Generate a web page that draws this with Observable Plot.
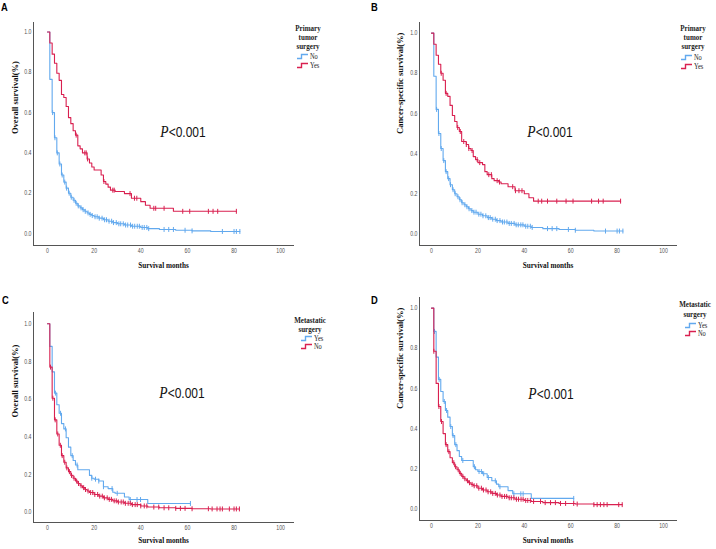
<!DOCTYPE html>
<html><head><meta charset="utf-8">
<script src="https://cdn.jsdelivr.net/npm/d3@7"></script>
<script src="https://cdn.jsdelivr.net/npm/@observablehq/plot@0.6"></script>
<style>
html,body{margin:0;padding:0;background:#fff;}
#fig{position:relative;width:716px;height:549px;overflow:hidden;background:#fff;}
#fig svg.plot{position:absolute;overflow:visible;}
.lab{position:absolute;font-family:"Liberation Sans",Arial,sans-serif;font-weight:bold;font-size:11px;line-height:1;color:#000;transform:scaleX(0.85);transform-origin:left top;}
.pval{position:absolute;white-space:nowrap;transform:translate(-50%,-50%) scaleX(0.8);color:#111;line-height:1;}
.pval i{font-family:"Liberation Serif",serif;font-size:17px;}
.pval span{font-family:"Liberation Sans",sans-serif;font-size:15px;}
.legt{position:absolute;white-space:nowrap;font-family:"Liberation Serif",serif;font-weight:bold;font-size:8.8px;line-height:1;color:#222;transform:translate(-50%,-50%) scaleX(0.8);}
.legi{position:absolute;white-space:nowrap;font-family:"Liberation Serif",serif;font-size:8px;line-height:1;color:#222;transform:translate(0,-50%) scaleX(0.8);transform-origin:left center;}
svg.legs{position:absolute;overflow:visible;}
</style></head><body><div id="fig"></div>
<script>
// ---- shared ticks / labels ----
const xTicks = [0, 20, 40, 60, 80, 100];
const yTicks = [0, 0.2, 0.4, 0.6, 0.8, 1.0];
const xTitle = "Survival months";
const BLUE = "#62a9ee", RED = "#d92050";

// ---- Panel A: Overall survival, primary tumor surgery ----
const a_no_t = [0,1,2,3,4,5,6,7,8,9,10,11,12,13,14,15,16,17,18,19,20,22,24,26,28,30,33,36,40,43,48,55,62,70];
const a_no_s = [1,.765,.6,.475,.4,.345,.29,.255,.225,.2,.18,.165,.15,.137,.127,.118,.11,.102,.095,.089,.083,.076,.068,.061,.054,.048,.042,.036,.03,.024,.02,.016,.013,.01];
const a_no_c = [2.2,3.2,4.2,5.3,6.3,7.4,8.2,9.3,10.2,11.4,12.3,13.2,14.4,15.3,16.2,17.4,18.3,19.2,20.4,21.3,22.2,23.4,24.5,25.3,26.4,27.5,28.3,29.5,30.6,31.4,32.5,33.5,34.4,35.6,36.5,37.4,38.5,39.4,40.6,41.5,42.6,43.4,50,52,54,59,62,75,80,81,82.5];
const a_yes_t = [0,1,2,3,4,5,6,7,8,9,10,11,12,13,14,15,17,18,19,20,23,24,25,26,27,29,33,36,40,42,44,54];
const a_yes_s = [1,.945,.89,.845,.795,.76,.69,.675,.63,.575,.545,.51,.488,.435,.42,.4,.37,.35,.33,.315,.29,.258,.245,.23,.215,.208,.198,.175,.158,.14,.125,.11];
const a_yes_c = [12.3,16,16.6,17.2,24.2,28,28.6,35.4,37.3,38.3,45.6,46.4,50,58,61,69,71,73,81];

// ---- Panel B: Cancer-specific survival, primary tumor surgery ----
const b_no_t = [0,1,2,3,4,5,6,7,8,9,10,11,12,13,14,15,16,17,18,20,22,24,26,28,30,33,36,40,43,48,55,62,70];
const b_no_s = [1,.785,.62,.5,.425,.365,.31,.275,.245,.22,.2,.185,.17,.155,.145,.135,.125,.116,.108,.098,.09,.081,.073,.066,.059,.052,.045,.038,.032,.026,.022,.018,.014];
const b_no_c = [2.2,3.2,4.2,5.3,6.3,7.4,8.2,9.3,10.2,11.4,12.3,13.2,14.4,15.3,16.2,17.4,18.3,19.2,20.4,21.3,22.2,23.4,24.5,25.3,26.4,27.5,28.3,29.5,30.6,31.4,32.5,33.5,34.4,35.6,36.5,37.4,38.5,39.4,40.6,41.5,42.6,43.4,50,52,54,59,62,75,80,81,82.5];
const b_yes_t = [0,1,2,3,4,5,6,7,8,9,10,11,12,13,15,16,17,18,19,20,22,23,24,26,27,29,30,33,36,40,42,44];
const b_yes_s = [1,.945,.89,.845,.8,.765,.7,.685,.64,.59,.56,.53,.51,.46,.445,.425,.415,.385,.37,.355,.345,.31,.295,.275,.265,.258,.25,.235,.215,.2,.18,.163];
const b_yes_c = [4.2,6.3,11.3,12.4,13.9,15,16.1,17.5,19.7,20.8,24.7,25.8,28.3,29.3,35,36.2,37.7,39,46,47.5,50,54,58,61,69,72,74,81.5];

// ---- Panel C: Overall survival, metastatic surgery ----
const c_yes_t = [0,1,2,3,4,5,6,7,8,9,10,11,12,13,18,19,20,22,24,26,28,29,33,35,43];
const c_yes_s = [1,.88,.745,.632,.57,.525,.47,.442,.395,.345,.3,.274,.25,.225,.195,.18,.175,.165,.135,.125,.106,.1,.08,.067,.046];
const c_yes_c = [3.4,5.6,7.7,10.6,12.7,19,20.6,22,24,27.7,29.9,35.5,38.4,39.9,61.3];
const c_no_t = [0,1,2,3,4,5,6,7,8,9,10,11,12,13,14,15,16,17,18,20,22,24,26,28,30,33,36,40,43,48,55,62,70];
const c_no_s = [1,.77,.605,.49,.415,.355,.3,.265,.235,.215,.195,.18,.165,.152,.14,.13,.12,.112,.104,.094,.085,.076,.068,.06,.054,.047,.04,.033,.027,.023,.02,.018,.017];
const c_no_c = [1.3,2.3,3.3,4.4,5.5,6.3,7.4,8.3,9.4,10.3,11.4,12.5,13.3,14.4,15.5,16.3,17.4,18.5,19.4,20.3,21.5,22.4,23.5,24.4,25.6,26.5,27.4,28.6,29.5,30.4,31.6,32.5,33.4,34.6,35.5,36.4,37.6,38.5,40,41.5,42.6,45.6,47.7,50,52,55,57,59,62,69,70.6,72.7,74,75,78,80,81,82.3];

// ---- Panel D: Cancer-specific survival, metastatic surgery ----
const d_yes_t = [0,1,2,3,4,5,6,7,8,9,10,11,12,13,18,19,20,22,24,26,28,29,33,35,43];
const d_yes_s = [1,.884,.756,.645,.585,.535,.49,.457,.41,.365,.32,.29,.261,.241,.21,.195,.186,.175,.156,.14,.123,.11,.091,.075,.052];
const d_yes_c = [1.3,3.3,5.5,6.5,8.3,9.3,10.5,13.5,18.5,20.5,21.5,22.5,24.5,27.5,29.5,35.5,38.5,39.5,61.3];
const d_no_t = [0,1,2,3,4,5,6,7,8,9,10,11,12,13,14,15,16,17,18,20,22,24,26,28,30,33,36,40,43,48,55,62,70];
const d_no_s = [1,.785,.625,.51,.435,.375,.32,.285,.255,.23,.21,.195,.177,.162,.15,.14,.13,.122,.115,.103,.094,.085,.077,.069,.062,.055,.048,.042,.037,.031,.027,.024,.021];
const d_no_c = [1,3.2,4.3,6.3,7.5,9.6,10.4,11.5,12.4,13.5,14.4,15.5,16.4,17.5,18.4,19.5,20.4,21.5,22.4,23.5,24.4,25.5,26.4,27.5,28.4,29.5,30.4,31.5,32.4,33.5,34.4,35.5,36.6,37.5,38.6,39.5,40.6,41.5,42.6,44,47,49,51.3,53.4,55.6,57.8,61.3,62.8,70,71.4,72.8,74.3,75.7,80.7,82.2];

const fig = document.getElementById("fig");

// censor tick: a short vertical stroke
const tickSymbol = { draw(ctx, size) { const h = Math.sqrt(size) / 2; ctx.moveTo(0, -h); ctx.lineTo(0, h); } };
function stepAt(t, s, x) { let v = s[0]; for (let i = 0; i < t.length; i++) if (t[i] <= x) v = s[i]; return v; }

function drawPanel(cfg) {
  const marks = [];
  for (const se of cfg.series) {
    const line = se.t.map((v, i) => ({t: v, s: se.s[i]}));
    const end = Math.max(...se.c);
    if (end > se.t[se.t.length - 1]) line.push({t: end, s: se.s[se.s.length - 1]});
    const cens = se.c.map(v => ({t: v, s: stepAt(se.t, se.s, v)}));
    marks.push(Plot.line(line, {x: "t", y: "s", curve: "step-after", stroke: se.color, strokeWidth: 1.1}));
    marks.push(Plot.dot(cens, {x: "t", y: "s", symbol: tickSymbol, r: 2.8, fill: "none", stroke: se.color, strokeWidth: 1}));
  }
  marks.push(Plot.text([cfg.ylabel], {text: d => d, frameAnchor: "left", dx: cfg.ydx, rotate: -90,
    fontFamily: "Liberation Serif, serif", fontWeight: "bold", fontSize: 8.5, fill: "#111"}));
  marks.push(Plot.text([xTitle], {text: d => d, frameAnchor: "bottom", dy: cfg.xdy,
    fontFamily: "Liberation Serif, serif", fontWeight: "bold", fontSize: 9, fill: "#111"}));
  const svg = Plot.plot({
    width: cfg.width, height: cfg.height,
    marginLeft: cfg.mL, marginRight: cfg.mR, marginTop: cfg.mT, marginBottom: cfg.mB,
    style: {fontFamily: "Liberation Sans, Arial, sans-serif", fontSize: "6.5px", color: "#555", background: "transparent", overflow: "visible"},
    x: {domain: cfg.xDom, ticks: xTicks, tickSize: 0, tickPadding: 3, line: true, label: null},
    y: {domain: cfg.yDom, ticks: yTicks, tickFormat: d3.format(".1f"), tickSize: 0, tickPadding: 2, line: true, label: null},
    marks
  });
  svg.classList.add("plot");
  svg.style.left = cfg.left + "px";
  svg.style.top = cfg.top + "px";
  fig.appendChild(svg);
  // horizontally condensed text, as in the reference
  svg.querySelectorAll("text").forEach(t => {
    const tr = (t.getAttribute("transform") || "") + (t.parentNode.getAttribute("transform") || "");
    if (tr.includes("rotate")) return;
    const L = t.getComputedTextLength();
    if (L > 0) { t.setAttribute("textLength", (L * 0.8).toFixed(2)); t.setAttribute("lengthAdjust", "spacingAndGlyphs"); }
  });
}

function addDiv(cls, html, x, y) {
  const d = document.createElement("div");
  d.className = cls; d.innerHTML = html;
  d.style.left = x + "px"; d.style.top = y + "px";
  fig.appendChild(d);
}
const NS = "http://www.w3.org/2000/svg";
function legend(cx, titleYs, titleLines, sx, itemYs, items) {
  titleLines.forEach((l, i) => addDiv("legt", l, cx, titleYs[i]));
  items.forEach((it, i) => {
    const y = itemYs[i];
    const s = document.createElementNS(NS, "svg");
    s.setAttribute("class", "legs"); s.setAttribute("width", "11"); s.setAttribute("height", "7");
    s.style.left = sx + "px"; s.style.top = Math.round(y - 3) + "px";
    const p = document.createElementNS(NS, "path");
    p.setAttribute("d", "M0,4.5H4.5V0.5H11");
    p.setAttribute("fill", "none");
    p.setAttribute("stroke", it.color);
    p.setAttribute("stroke-width", "1.4");
    s.appendChild(p);
    fig.appendChild(s);
    addDiv("legi", it.label, sx + 12.5, y);
  });
}

const P = '<i>P</i><span>&lt;0.001</span>';

// Panel A
drawPanel({left: 0, top: 0, width: 358, height: 275, mL: 33, mR: 65, mT: 22, mB: 30,
  xDom: [-6, 105.5], yDom: [-0.0596, 1.047], ylabel: "Overall survival(%)", ydx: -18, xdy: 22,
  series: [{t: a_no_t, s: a_no_s, c: a_no_c, color: BLUE}, {t: a_yes_t, s: a_yes_s, c: a_yes_c, color: RED}]});
// Panel B
drawPanel({left: 358, top: 0, width: 358, height: 275, mL: 61, mR: 40, mT: 22, mB: 30,
  xDom: [-5.17, 105.6], yDom: [-0.058, 1.053], ylabel: "Cancer-specific survival(%)", ydx: -19, xdy: 22,
  series: [{t: b_no_t, s: b_no_s, c: b_no_c, color: BLUE}, {t: b_yes_t, s: b_yes_s, c: b_yes_c, color: RED}]});
// Panel C
drawPanel({left: 0, top: 275, width: 358, height: 274, mL: 33, mR: 65, mT: 37, mB: 27,
  xDom: [-6, 105.5], yDom: [-0.055, 1.06], ylabel: "Overall survival(%)", ydx: -18, xdy: 20,
  series: [{t: c_yes_t, s: c_yes_s, c: c_yes_c, color: BLUE}, {t: c_no_t, s: c_no_s, c: c_no_c, color: RED}]});
// Panel D
drawPanel({left: 358, top: 275, width: 358, height: 274, mL: 61, mR: 40, mT: 22, mB: 29,
  xDom: [-5.17, 105.6], yDom: [-0.058, 1.053], ylabel: "Cancer-specific survival(%)", ydx: -19, xdy: 22,
  series: [{t: d_yes_t, s: d_yes_s, c: d_yes_c, color: BLUE}, {t: d_no_t, s: d_no_s, c: d_no_c, color: RED}]});

// panel letters
addDiv("lab", "A", 0.5, 2);
addDiv("lab", "B", 371, 2);
addDiv("lab", "C", 1.5, 295);
addDiv("lab", "D", 371, 295);

// p-values
addDiv("pval", P, 183, 131);
addDiv("pval", P, 550, 131);
addDiv("pval", P, 182, 392);
addDiv("pval", P, 551, 393);

// legends
legend(308, [28, 37, 46], ["Primary", "tumor", "surgery"], 297, [57, 66], [{label: "No", color: BLUE}, {label: "Yes", color: RED}]);
legend(693, [28, 37, 46], ["Primary", "tumor", "surgery"], 681, [58, 67], [{label: "No", color: BLUE}, {label: "Yes", color: RED}]);
legend(310, [320, 329], ["Metastatic", "surgery"], 301, [339, 347], [{label: "Yes", color: BLUE}, {label: "No", color: RED}]);
legend(695, [304, 314], ["Metastatic", "surgery"], 685, [326, 334], [{label: "Yes", color: BLUE}, {label: "No", color: RED}]);
</script></body></html>
